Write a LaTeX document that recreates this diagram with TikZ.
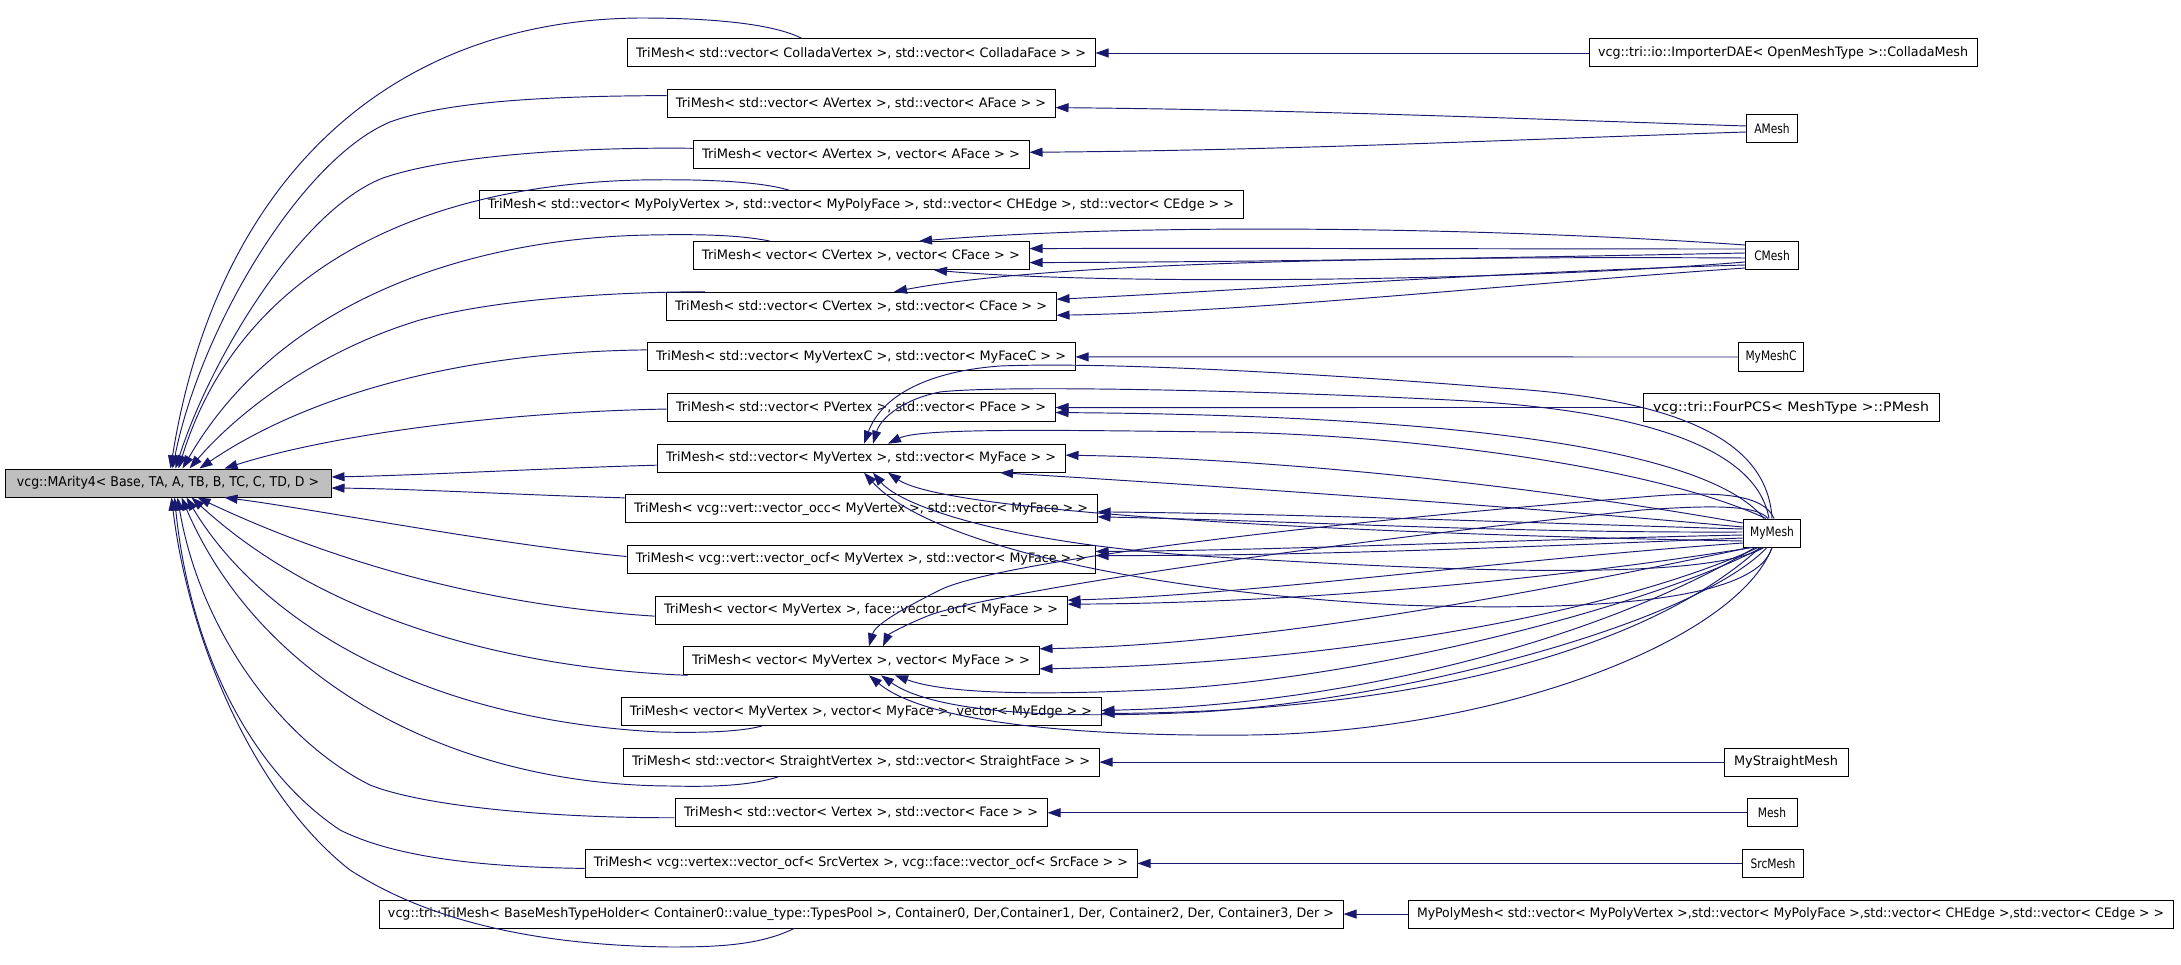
\documentclass[tikz,border=0pt]{standalone}
\usepackage{fontspec}
\setmainfont{DejaVu Sans}
\usetikzlibrary{arrows.meta,calc}
\definecolor{mblue}{RGB}{25,25,112}
\definecolor{basegray}{RGB}{191,191,191}
\begin{document}
\begin{tikzpicture}[x=1pt,y=-1pt,
  cls/.style={draw=black,line width=1pt,fill=white,minimum height=28pt,inner ysep=0pt,inner xsep=7pt,font=\fontsize{13}{15}\selectfont},
  edge/.style={draw=mblue,line width=0.95pt,-{Triangle[length=13pt,width=9pt]}}]
\fill[white] (0,0) rectangle (2181,965);
\useasboundingbox (0,0) rectangle (2181,965);
% base
\node[cls,fill=basegray,inner xsep=0pt,minimum width=326pt,font=\fontsize{13.5}{15}\selectfont] (base) at (168,483) {\resizebox{302pt}{\height}{vcg::MArity4< Base, TA, A, TB, B, TC, C, TD, D >}};
% middle column
\node[cls,inner xsep=0pt,minimum width=468pt] (m1) at (861,53) {\resizebox{450pt}{\height}{TriMesh< std::vector< ColladaVertex >, std::vector< ColladaFace > >}};
\node[cls,inner xsep=0pt,minimum width=388pt] (m2) at (861,103.6) {\resizebox{370pt}{\height}{TriMesh< std::vector< AVertex >, std::vector< AFace > >}};
\node[cls,inner xsep=0pt,minimum width=336pt] (m3) at (861,154.3) {\resizebox{318pt}{\height}{TriMesh< vector< AVertex >, vector< AFace > >}};
\node[cls,inner xsep=0pt,minimum width=764pt] (m4) at (861,205) {\resizebox{746pt}{\height}{TriMesh< std::vector< MyPolyVertex >, std::vector< MyPolyFace >, std::vector< CHEdge >, std::vector< CEdge > >}};
\node[cls,inner xsep=0pt,minimum width=336pt] (m5) at (861,255.6) {\resizebox{318pt}{\height}{TriMesh< vector< CVertex >, vector< CFace > >}};
\node[cls,inner xsep=0pt,minimum width=390pt] (m6) at (861,306.25) {\resizebox{372pt}{\height}{TriMesh< std::vector< CVertex >, std::vector< CFace > >}};
\node[cls,inner xsep=0pt,minimum width=428pt] (m7) at (861,356.9) {\resizebox{410pt}{\height}{TriMesh< std::vector< MyVertexC >, std::vector< MyFaceC > >}};
\node[cls,inner xsep=0pt,minimum width=388pt] (m8) at (861,407.55) {\resizebox{370pt}{\height}{TriMesh< std::vector< PVertex >, std::vector< PFace > >}};
\node[cls,inner xsep=0pt,minimum width=408pt] (m9) at (861,458.2) {\resizebox{390pt}{\height}{TriMesh< std::vector< MyVertex >, std::vector< MyFace > >}};
\node[cls,inner xsep=0pt,minimum width=472pt] (m10) at (861,508.85) {\resizebox{454pt}{\height}{TriMesh< vcg::vert::vector\_occ< MyVertex >, std::vector< MyFace > >}};
\node[cls,inner xsep=0pt,minimum width=468pt] (m11) at (861,559.5) {\resizebox{450pt}{\height}{TriMesh< vcg::vert::vector\_ocf< MyVertex >, std::vector< MyFace > >}};
\node[cls,inner xsep=0pt,minimum width=412pt] (m12) at (861,610.15) {\resizebox{394pt}{\height}{TriMesh< vector< MyVertex >, face::vector\_ocf< MyFace > >}};
\node[cls,inner xsep=0pt,minimum width=356pt] (m13) at (861,660.8) {\resizebox{338pt}{\height}{TriMesh< vector< MyVertex >, vector< MyFace > >}};
\node[cls,inner xsep=0pt,minimum width=480pt] (m14) at (861,711.45) {\resizebox{462pt}{\height}{TriMesh< vector< MyVertex >, vector< MyFace >, vector< MyEdge > >}};
\node[cls,inner xsep=0pt,minimum width=476pt] (m15) at (861,762.1) {\resizebox{458pt}{\height}{TriMesh< std::vector< StraightVertex >, std::vector< StraightFace > >}};
\node[cls,inner xsep=0pt,minimum width=372pt] (m16) at (861,812.75) {\resizebox{354pt}{\height}{TriMesh< std::vector< Vertex >, std::vector< Face > >}};
\node[cls,inner xsep=0pt,minimum width=552pt] (m17) at (861,863.4) {\resizebox{534pt}{\height}{TriMesh< vcg::vertex::vector\_ocf< SrcVertex >, vcg::face::vector\_ocf< SrcFace > >}};
\node[cls,inner xsep=0pt,minimum width=964pt] (m18) at (861,914.05) {\resizebox{946pt}{\height}{vcg::tri::TriMesh< BaseMeshTypeHolder< Container0::value\_type::TypesPool >, Container0, Der,Container1, Der, Container2, Der, Container3, Der >}};
% right column
\node[cls,inner xsep=0pt,minimum width=388pt] (rc) at (1783,53) {\resizebox{370pt}{\height}{vcg::tri::io::ImporterDAE< OpenMeshType >::ColladaMesh}};
\node[cls,minimum width=51pt] (ra) at (1772,129) {\scalebox{0.82}[1]{AMesh}};
\node[cls,minimum width=53pt] (rcm) at (1772,256) {\scalebox{0.82}[1]{CMesh}};
\node[cls,minimum width=60pt] (rmc) at (1771,357) {\scalebox{0.82}[1]{MyMeshC}};
\node[cls,inner xsep=0pt,minimum width=296pt] (rf) at (1791,407.5) {\resizebox{276pt}{\height}{vcg::tri::FourPCS< MeshType >::PMesh}};
\node[cls,minimum width=52pt] (rm) at (1772,533) {\scalebox{0.82}[1]{MyMesh}};
\node[cls,inner xsep=0pt,minimum width=124pt] (rs) at (1786,762.1) {\resizebox{104pt}{\height}{MyStraightMesh}};
\node[cls,minimum width=50pt] (rme) at (1772,812.75) {\scalebox{0.82}[1]{Mesh}};
\node[cls,minimum width=61pt] (rsm) at (1773,863.4) {\scalebox{0.82}[1]{SrcMesh}};
\node[cls,inner xsep=0pt,minimum width=765pt] (rp) at (1790.5,914.05) {\resizebox{747pt}{\height}{MyPolyMesh< std::vector< MyPolyVertex >,std::vector< MyPolyFace >,std::vector< CHEdge >,std::vector< CEdge > >}};

% ---- edges to base
\draw[edge] ($(m1.north)+(-59,0)$) .. controls (770,22) and (700,18) .. (640,18) .. controls (380,20) and (215,190) .. ($(base.north west)+(166,0)$);
\draw[edge] ($(m2.west)+(0,-8)$) .. controls (560,96) and (450,100) .. (390,122) .. controls (300,160) and (200,330) .. ($(base.north west)+(168,0)$);
\draw[edge] ($(m3.west)+(0,-6)$) .. controls (580,147) and (450,155) .. (383,178) .. controls (300,210) and (210,360) .. ($(base.north west)+(171,0)$);
\draw[edge] ($(m4.north)+(-71,0)$) .. controls (760,181) and (700,179) .. (640,180) .. controls (420,185) and (240,270) .. ($(base.north west)+(174,0)$);
\draw[edge] ($(m5.north)+(-91,0)$) .. controls (740,235) and (700,234) .. (650,235) .. controls (470,238) and (280,300) .. ($(base.north west)+(178,0)$);
\draw[edge] ($(m6.north)+(-156,0)$) .. controls (620,292) and (500,298) .. (420,320) .. controls (320,350) and (240,410) .. ($(base.north west)+(185,0)$);
\draw[edge] ($(m7.west)+(0,-7)$) .. controls (450,352) and (300,400) .. ($(base.north west)+(195,0)$);
\draw[edge] ($(m8.west)+(0,1.5)$) .. controls (500,412) and (330,435) .. ($(base.north west)+(220,0)$);
\draw[edge] ($(m9.west)+(0,7)$) .. controls (550,468) and (430,475) .. ($(base.east)+(0,-6)$);
\draw[edge] ($(m10.west)+(0,-11)$) .. controls (520,495) and (420,489) .. ($(base.east)+(0,5)$);
\draw[edge] ($(m11.west)+(0,-3)$) .. controls (500,545) and (320,510) .. ($(base.south west)+(220,0)$);
\draw[edge] ($(m12.west)+(0,6)$) .. controls (480,605) and (330,560) .. ($(base.south west)+(193,0)$);
\draw[edge] ($(m13.south west)+(5,0)$) .. controls (500,668) and (320,615) .. ($(base.south west)+(187,0)$);
\draw[edge] ($(m14.south)+(-99,0)$) .. controls (740,732) and (700,733) .. (660,732) .. controls (420,720) and (260,620) .. ($(base.south west)+(182,0)$);
\draw[edge] ($(m15.south)+(-82,0)$) .. controls (750,786) and (710,787) .. (670,786) .. controls (450,785) and (260,680) .. ($(base.south west)+(177,0)$);
\draw[edge] ($(m16.west)+(0,5)$) .. controls (540,818) and (420,805) .. (370,785) .. controls (280,740) and (200,630) .. ($(base.south west)+(173,0)$);
\draw[edge] ($(m17.west)+(0,5)$) .. controls (470,867) and (390,855) .. (340,830) .. controls (250,770) and (190,650) .. ($(base.south west)+(170,0)$);
\draw[edge] ($(m18.south)+(-67,0)$) .. controls (760,945) and (720,947) .. (670,947) .. controls (520,945) and (420,915) .. (350,870) .. controls (260,800) and (190,650) .. ($(base.south west)+(167,0)$);

% ---- simple right edges
\draw[edge] (rc.west) -- (m1.east);
\draw[edge] ($(ra.west)+(0,-3)$) .. controls (1500,118) and (1300,110) .. ($(m2.east)+(0,4)$);
\draw[edge] ($(ra.west)+(0,3)$) .. controls (1500,140) and (1300,150) .. ($(m3.east)+(0,-2)$);
\draw[edge] (rmc.west) -- (m7.east);
\draw[edge] (rf.west) -- (m8.east);
\draw[edge] (rs.west) -- (m15.east);
\draw[edge] (rme.west) -- (m16.east);
\draw[edge] (rsm.west) -- (m17.east);
\draw[edge] (rp.west) -- (m18.east);

% ---- CMesh edges
\draw[edge] ($(rcm.west)+(0,-11)$) .. controls (1500,228) and (1150,222) .. ($(m5.north)+(58,0)$);
\draw[edge] ($(rcm.west)+(0,-7)$) .. controls (1500,249) and (1250,248) .. ($(m5.east)+(0,-7)$);
\draw[edge] ($(rcm.west)+(0,-3)$) .. controls (1500,258) and (1250,262) .. ($(m5.east)+(0,7)$);
\draw[edge] ($(rcm.west)+(0,6)$) .. controls (1500,282) and (1100,285) .. ($(m5.south)+(73,0)$);
\draw[edge] ($(rcm.west)+(0,2)$) .. controls (1400,256) and (1050,262) .. ($(m6.north)+(33,0)$);
\draw[edge] ($(rcm.west)+(0,9)$) .. controls (1500,272) and (1250,290) .. ($(m6.east)+(0,-7)$);
\draw[edge] ($(rcm.west)+(0,12)$) .. controls (1500,285) and (1250,312) .. ($(m6.east)+(0,9)$);

% ---- MyMesh edges
\draw[edge] ($(rm.north)+(-8,0)$) .. controls (1700,440) and (1400,415) .. ($(m8.east)+(0,5)$);
\draw[edge] (rm.north) .. controls (1768,450) and (1700,400) .. (1500,388) .. controls (1300,372) and (1100,362) .. (1000,366) .. controls (920,372) and (880,400) .. ($(m9.north)+(3,0)$);
\draw[edge] ($(rm.north)+(-3,0)$) .. controls (1757,450) and (1650,410) .. (1450,400) .. controls (1250,390) and (1000,385) .. (940,392) .. controls (900,400) and (880,420) .. ($(m9.north)+(12,0)$);
\draw[edge] ($(rm.north)+(-6,0)$) .. controls (1650,465) and (1400,434) .. (1218,432) .. controls (1050,430) and (920,428) .. ($(m9.north)+(27,0)$);
\draw[edge] ($(rm.west)+(0,-10)$) .. controls (1500,480) and (1250,458) .. ($(m9.east)+(0,-3)$);
\draw[edge] ($(rm.west)+(0,-6)$) .. controls (1500,505) and (1200,485) .. ($(m9.south)+(139,0)$);
\draw[edge] (rm.south) .. controls (1757,600) and (1600,612) .. (1400,605) .. controls (1150,592) and (930,545) .. ($(m9.south)+(3,0)$);
\draw[edge] ($(rm.south)+(-8,0)$) .. controls (1700,585) and (1400,568) .. (1200,556) .. controls (1000,542) and (900,505) .. ($(m9.south)+(12,0)$);
\draw[edge] ($(rm.west)+(0,8)$) .. controls (1400,535) and (950,515) .. ($(m9.south)+(27,0)$);
\draw[edge] ($(rm.west)+(0,-4)$) .. controls (1500,522) and (1300,514) .. ($(m10.east)+(0,3)$);
\draw[edge] ($(rm.west)+(0,-1)$) .. controls (1500,533) and (1300,521) .. ($(m10.east)+(0,8)$);
\draw[edge] ($(rm.west)+(0,2)$) .. controls (1500,540) and (1300,550) .. ($(m11.east)+(0,-8)$);
\draw[edge] ($(rm.west)+(0,5)$) .. controls (1500,548) and (1300,556) .. ($(m11.east)+(0,-4)$);
\draw[edge] ($(rm.west)+(0,10)$) .. controls (1500,560) and (1250,595) .. ($(m12.east)+(0,-10)$);
\draw[edge] ($(rm.south)+(-20,0)$) .. controls (1550,580) and (1300,603) .. ($(m12.east)+(0,-6)$);
\draw[edge] ($(rm.north)+(2,0)$) .. controls (1764,495) and (1722,490) .. (1642,497) .. controls (1350,520) and (1000,560) .. (940,590) .. controls (900,610) and (875,625) .. ($(m13.north)+(8,0)$);
\draw[edge] ($(rm.north)+(-4,0)$) .. controls (1757,505) and (1712,505) .. (1642,510) .. controls (1350,540) and (1000,590) .. (930,615) .. controls (900,627) and (888,635) .. ($(m13.north)+(22,0)$);
\draw[edge] ($(rm.south)+(-22,0)$) .. controls (1500,600) and (1250,645) .. ($(m13.east)+(0,-12)$);
\draw[edge] ($(rm.south)+(-14,0)$) .. controls (1600,620) and (1300,665) .. ($(m13.east)+(0,8)$);
\draw[edge] (rm.south) .. controls (1737,640) and (1500,732) .. (1250,735) .. controls (1050,737) and (920,718) .. ($(m13.south)+(8,0)$);
\draw[edge] ($(rm.south)+(-5,0)$) .. controls (1692,625) and (1400,700) .. (1200,712) .. controls (1000,722) and (920,703) .. ($(m13.south)+(20,0)$);
\draw[edge] ($(rm.south)+(-10,0)$) .. controls (1642,610) and (1350,682) .. (1150,690) .. controls (1000,697) and (935,690) .. ($(m13.south)+(34,0)$);
\draw[edge] ($(rm.south)+(-17,0)$) .. controls (1600,640) and (1350,705) .. ($(m14.east)+(0,-1)$);
\draw[edge] ($(rm.south)+(-12,0)$) .. controls (1642,655) and (1400,712) .. ($(m14.east)+(0,2)$);
\end{tikzpicture}
\end{document}
